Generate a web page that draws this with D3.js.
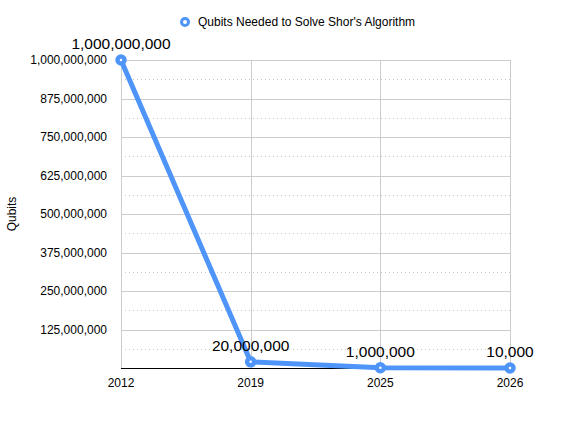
<!DOCTYPE html>
<html><head><meta charset="utf-8">
<script src="https://cdn.jsdelivr.net/npm/d3@7"></script>
<style>body{margin:0;background:#fff;}text{font-family:"Liberation Sans",Arial,Helvetica,sans-serif;}</style>
</head><body>
<svg id="c" width="568" height="423"></svg>
<script>
const years = ["2012", "2019", "2025", "2026"];
const qubits = [1000000000, 20000000, 1000000, 10000];
const valueLabels = ["1,000,000,000", "20,000,000", "1,000,000", "10,000"];
const yTicks = [125000000, 250000000, 375000000, 500000000, 625000000, 750000000, 875000000, 1000000000];
const seriesName = "Qubits Needed to Solve Shor's Algorithm";
const yTitle = "Qubits";

(function () {
const svg = d3.select("#c");
const mL = 121, mR = 510, mT = 60, mB = 368;
const x = d3.scalePoint().domain(years).range([mL, mR]);
const y = d3.scaleLinear().domain([0, 1000000000]).range([mB, mT]);
const color = "#4f95f9";
const fmt = d3.format(",");

const minor = yTicks.map(v => v - 62500000);
svg.append("g").selectAll("line").data(minor).join("line")
  .attr("x1", mL).attr("x2", mR)
  .attr("y1", d => Math.round(y(d)) + 0.5).attr("y2", d => Math.round(y(d)) + 0.5)
  .attr("stroke", "#c8c8c8").attr("stroke-width", 1).attr("stroke-dasharray", "1,3");

svg.append("g").selectAll("line").data(yTicks).join("line")
  .attr("x1", mL).attr("x2", mR)
  .attr("y1", d => Math.round(y(d)) + 0.5).attr("y2", d => Math.round(y(d)) + 0.5)
  .attr("stroke", "#cccccc").attr("stroke-width", 1);

svg.append("g").selectAll("line").data(years).join("line")
  .attr("x1", d => Math.round(x(d)) + 0.5).attr("x2", d => Math.round(x(d)) + 0.5)
  .attr("y1", mT).attr("y2", mB)
  .attr("stroke", "#cccccc").attr("stroke-width", 1);

svg.append("line").attr("x1", mL).attr("x2", mR)
  .attr("y1", Math.round(y(0)) + 0.5).attr("y2", Math.round(y(0)) + 0.5)
  .attr("stroke", "#000").attr("stroke-width", 1);

svg.append("g").selectAll("text").data(yTicks).join("text")
  .attr("x", mL - 14).attr("y", d => y(d)).attr("dy", "0.35em")
  .attr("text-anchor", "end").attr("font-size", 12).attr("fill", "#000")
  .text(d => fmt(d));

svg.append("g").selectAll("text").data(years).join("text")
  .attr("x", d => x(d)).attr("y", mB + 19)
  .attr("text-anchor", "middle").attr("font-size", 12).attr("fill", "#000")
  .text(d => d);

svg.append("text").attr("transform", `translate(16,${(mT + mB) / 2}) rotate(-90)`)
  .attr("text-anchor", "middle").attr("font-size", 12).text(yTitle);

const pts = years.map((yr, i) => ({yr, v: qubits[i], lab: valueLabels[i]}));
svg.append("path").datum(pts)
  .attr("d", d3.line().x(d => x(d.yr)).y(d => y(d.v)))
  .attr("fill", "none").attr("stroke", color).attr("stroke-width", 5)
  .attr("stroke-linejoin", "round").attr("stroke-linecap", "round");

svg.append("g").selectAll("circle").data(pts).join("circle")
  .attr("cx", d => x(d.yr)).attr("cy", d => y(d.v)).attr("r", 3.5)
  .attr("fill", "#fff").attr("stroke", color).attr("stroke-width", 4.5);

svg.append("g").selectAll("text").data(pts).join("text")
  .attr("x", d => x(d.yr)).attr("y", d => y(d.v) - 11)
  .attr("text-anchor", "middle").attr("font-size", 15.5).attr("fill", "#000")
  .text(d => d.lab);

const lg = svg.append("g");
lg.append("circle").attr("cx", 185).attr("cy", 22).attr("r", 3.5)
  .attr("fill", "#fff").attr("stroke", color).attr("stroke-width", 3);
lg.append("text").attr("x", 198).attr("y", 22).attr("dy", "0.35em")
  .attr("font-size", 12).text(seriesName);
})();
</script>
</body></html>
